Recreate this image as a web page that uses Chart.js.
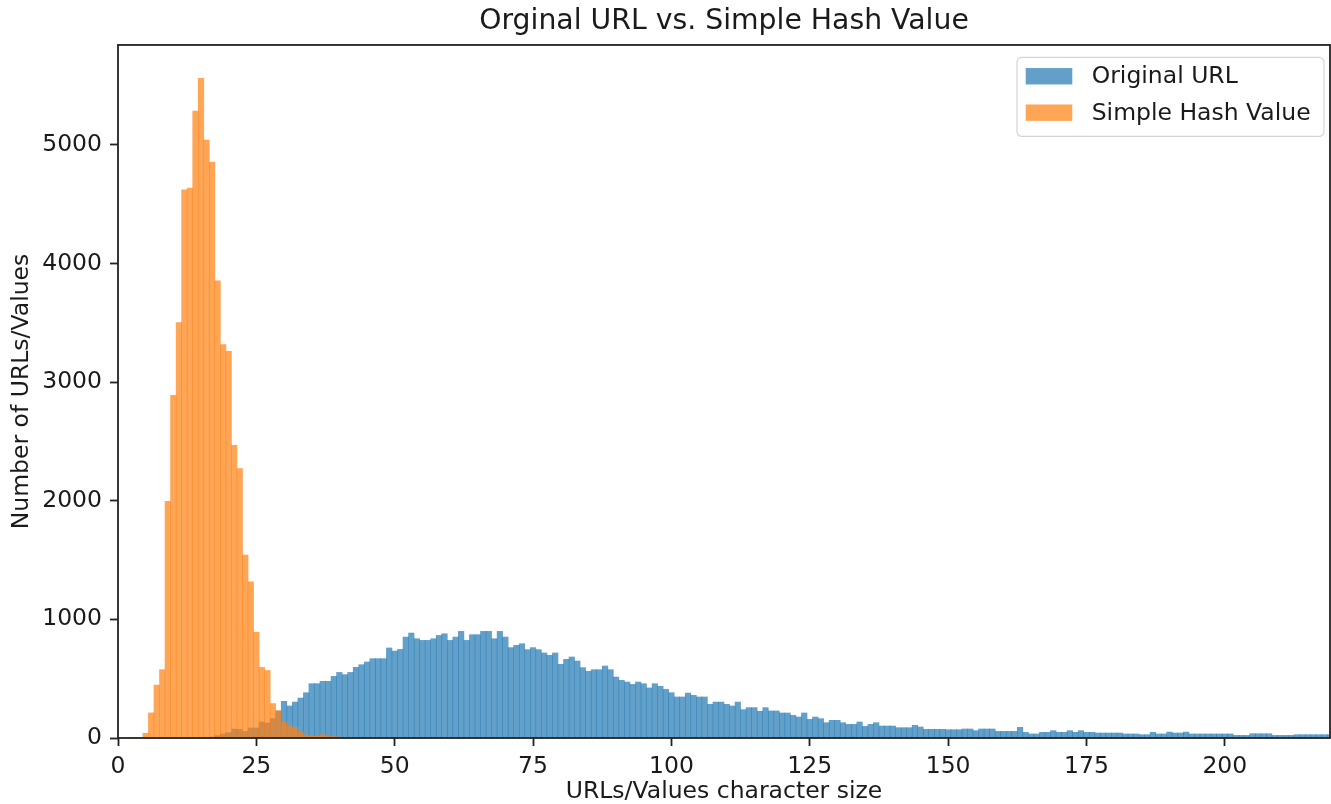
<!DOCTYPE html>
<html>
<head>
<meta charset="utf-8">
<script src="https://cdn.jsdelivr.net/npm/chart.js@4.4.1/dist/chart.umd.min.js"></script>
<style>
  html, body { margin: 0; padding: 0; background: #fff; }
  #wrap { width: 1331px; height: 804px; }
</style>
</head>
<body>
<div id="wrap"><canvas id="myChart" width="1331" height="804"></canvas></div>
<script>
const chartTitle = 'Orginal URL vs. Simple Hash Value';
const xTitle = 'URLs/Values character size';
const yTitle = 'Number of URLs/Values';
const xTicks = [0, 25, 50, 75, 100, 125, 150, 175, 200];
const yTicks = [0, 1000, 2000, 3000, 4000, 5000];

// histogram bins (character size) and counts
const urlSizes = [
  17, 18, 19, 20, 21, 22, 23, 24, 25, 26, 27, 28, 29, 30, 31, 32, 33, 34, 35, 36,
  37, 38, 39, 40, 41, 42, 43, 44, 45, 46, 47, 48, 49, 50, 51, 52, 53, 54, 55, 56,
  57, 58, 59, 60, 61, 62, 63, 64, 65, 66, 67, 68, 69, 70, 71, 72, 73, 74, 75, 76,
  77, 78, 79, 80, 81, 82, 83, 84, 85, 86, 87, 88, 89, 90, 91, 92, 93, 94, 95, 96,
  97, 98, 99, 100, 101, 102, 103, 104, 105, 106, 107, 108, 109, 110, 111, 112, 113, 114, 115, 116,
  117, 118, 119, 120, 121, 122, 123, 124, 125, 126, 127, 128, 129, 130, 131, 132, 133, 134, 135, 136,
  137, 138, 139, 140, 141, 142, 143, 144, 145, 146, 147, 148, 149, 150, 151, 152, 153, 154, 155, 156,
  157, 158, 159, 160, 161, 162, 163, 164, 165, 166, 167, 168, 169, 170, 171, 172, 173, 174, 175, 176,
  177, 178, 179, 180, 181, 182, 183, 184, 185, 186, 187, 188, 189, 190, 191, 192, 193, 194, 195, 196,
  197, 198, 199, 200, 201, 202, 203, 204, 205, 206, 207, 208, 209, 210, 211, 212, 213, 214, 215, 216,
  217, 218, 219
];
const urlCounts = [
  8, 20, 35, 45, 75, 73, 56, 84, 84, 135, 126, 163, 228, 309, 270, 303, 337, 382, 458, 458,
  478, 478, 520, 553, 534, 553, 596, 618, 641, 669, 669, 669, 759, 733, 747, 851, 885, 837, 823, 823,
  837, 865, 879, 823, 851, 899, 823, 871, 871, 899, 899, 837, 899, 851, 762, 781, 795, 745, 762, 745,
  717, 697, 717, 621, 663, 683, 649, 593, 562, 576, 576, 607, 576, 514, 486, 472, 452, 472, 458, 422,
  458, 436, 410, 382, 346, 346, 379, 360, 346, 346, 284, 303, 303, 284, 270, 303, 239, 256, 256, 225,
  256, 228, 228, 211, 211, 191, 177, 211, 157, 177, 163, 129, 149, 149, 129, 115, 115, 135, 98, 115,
  129, 101, 101, 101, 87, 87, 87, 107, 93, 73, 73, 73, 73, 70, 70, 70, 76, 76, 62, 76,
  76, 76, 56, 56, 56, 56, 90, 48, 34, 34, 48, 48, 62, 48, 48, 62, 48, 62, 48, 48,
  42, 42, 42, 42, 42, 34, 34, 34, 28, 28, 48, 34, 34, 50, 42, 42, 50, 34, 34, 34,
  34, 34, 34, 34, 34, 22, 22, 22, 36, 36, 36, 36, 22, 22, 22, 22, 28, 28, 28, 28,
  28, 28, 28
];
const hashSizes = [
  5, 6, 7, 8, 9, 10, 11, 12, 13, 14, 15, 16, 17, 18, 19, 20, 21, 22, 23, 24,
  25, 26, 27, 28, 29, 30, 31, 32, 33, 34, 35, 36, 37, 38, 39, 40, 41, 88
];
const hashCounts = [
  40, 212, 446, 576, 1996, 2888, 3502, 4621, 4636, 5286, 5561, 5041, 4855, 3855, 3316, 3260, 2468, 2271, 1543, 1316,
  892, 595, 569, 290, 230, 132, 104, 90, 51, 25, 15, 15, 28, 15, 11, 8, 3, 6
];

const textColor = '#1a1a1a';
const baseFont = { family: '"DejaVu Sans", sans-serif', size: 23.5 };
Chart.defaults.font.family = baseFont.family;

// matplotlib style box: all four spines
const frame = {
  id: 'frame',
  afterDatasetsDraw(chart) {
    const { ctx, chartArea: a } = chart;
    ctx.save();
    ctx.strokeStyle = '#222';
    ctx.lineWidth = 1.8;
    ctx.strokeRect(a.left, a.top, a.right - a.left, a.bottom - a.top);
    ctx.restore();
  }
};

// legend drawn inside the plot, upper right, with a light rounded box
const boxLegend = {
  id: 'boxLegend',
  afterDraw(chart) {
    const { ctx, chartArea: a } = chart;
    const x = a.right - 313, y = a.top + 12.5, w = 307, h = 79;
    ctx.save();
    ctx.beginPath();
    ctx.roundRect(x, y, w, h, 5);
    ctx.fillStyle = 'rgba(255,255,255,0.8)';
    ctx.fill();
    ctx.strokeStyle = '#d4d4d4';
    ctx.lineWidth = 1.2;
    ctx.stroke();
    ctx.font = baseFont.size + 'px ' + baseFont.family;
    ctx.textBaseline = 'middle';
    chart.data.datasets.forEach((ds, i) => {
      const cy = y + 18.8 + i * 36.4;
      ctx.fillStyle = ds.backgroundColor;
      ctx.fillRect(x + 8.7, cy - 8.2, 46.6, 16.4);
      ctx.fillStyle = textColor;
      ctx.fillText(ds.label, x + 74.7, cy + 1);
    });
    ctx.restore();
  }
};

const ctx = document.getElementById('myChart').getContext('2d');
const myChart = new Chart(ctx, {
  type: 'bar',
  data: {
    datasets: [
      {
        label: 'Original URL',
        data: urlSizes.map((s, i) => ({ x: s, y: urlCounts[i] })),
        backgroundColor: 'rgba(31, 119, 180, 0.7)',
        borderWidth: 0,
        grouped: false,
        barPercentage: 1,
        categoryPercentage: 1,
        order: 1
      },
      {
        label: 'Simple Hash Value',
        data: hashSizes.map((s, i) => ({ x: s, y: hashCounts[i] })),
        backgroundColor: 'rgba(255, 127, 14, 0.7)',
        borderWidth: 0,
        grouped: false,
        barPercentage: 1,
        categoryPercentage: 1,
        order: 0
      }
    ]
  },
  options: {
    responsive: false,
    animation: false,
    layout: { padding: { top: 0, right: 1, bottom: 0, left: 0 } },
    scales: {
      x: {
        type: 'linear',
        min: 0,
        max: 219,
        offset: false,
        afterBuildTicks: s => { s.ticks = xTicks.map(v => ({ value: v })); },
        afterFit: s => { s.height = 66; },
        border: { display: false },
        grid: { offset: false, drawOnChartArea: false, tickLength: 8, tickWidth: 1.8, tickColor: '#222' },
        ticks: { font: baseFont, color: textColor, padding: 7, maxRotation: 0, callback: v => String(v) },
        title: { display: true, text: xTitle, font: baseFont, color: textColor, padding: { top: 0, bottom: -2 } }
      },
      y: {
        min: 0,
        max: 5843,
        afterBuildTicks: s => { s.ticks = yTicks.map(v => ({ value: v })); },
        afterFit: s => { s.width = 118; },
        border: { display: false },
        grid: { drawOnChartArea: false, tickLength: 8, tickWidth: 1.8, tickColor: '#222' },
        ticks: { font: baseFont, color: textColor, padding: 8, callback: v => String(v) },
        title: { display: true, text: yTitle, font: baseFont, color: textColor, padding: { top: 8, bottom: 0 } }
      }
    },
    plugins: {
      legend: { display: false },
      tooltip: { enabled: false },
      title: {
        display: true,
        text: chartTitle,
        fullSize: false,
        color: textColor,
        font: { size: 28.3, weight: 'normal' },
        padding: { top: 5, bottom: 6 }
      }
    }
  },
  plugins: [frame, boxLegend]
});
</script>
</body>
</html>
